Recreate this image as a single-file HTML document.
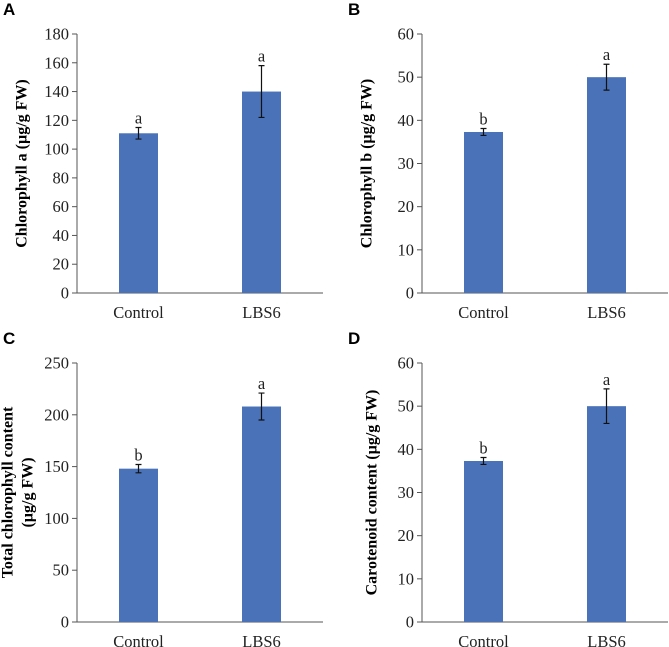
<!DOCTYPE html>
<html><head><meta charset="utf-8"><style>
html,body{margin:0;padding:0;background:#fff;}
svg{display:block;}
</style></head><body>
<svg id="fig" width="669" height="647" viewBox="0 0 669 647" xmlns="http://www.w3.org/2000/svg"></svg>
<script>
const categories = ["Control", "LBS6"];
const valuesA = [111, 140];
const errorsA = [4, 18];
const lettersA = ["a", "a"];
const ticksA = [0, 20, 40, 60, 80, 100, 120, 140, 160, 180];
const valuesB = [37.3, 50];
const errorsB = [0.8, 3];
const lettersB = ["b", "a"];
const ticksB = [0, 10, 20, 30, 40, 50, 60];
const valuesC = [148, 208];
const errorsC = [4, 13];
const lettersC = ["b", "a"];
const ticksC = [0, 50, 100, 150, 200, 250];
const valuesD = [37.3, 50];
const errorsD = [0.8, 4];
const lettersD = ["b", "a"];
const ticksD = [0, 10, 20, 30, 40, 50, 60];

const NS = "http://www.w3.org/2000/svg";
const svg = document.getElementById("fig");
function mk(tag, attrs, parent, text) {
  const e = document.createElementNS(NS, tag);
  for (const k in attrs) e.setAttribute(k, attrs[k]);
  if (text !== undefined) e.textContent = text;
  (parent || svg).appendChild(e);
  return e;
}
const serif = '"Liberation Serif", serif';

function panel(id, letter, ox, top, zero, ticks, values, errors, letters, titleLines, titleX) {
  const g = mk("g", {});
  
  
  const max = ticks[ticks.length - 1];
  const y = v => zero - (v / max) * (zero - top);
  const step = 123;
  const x = i => ox + step * (i + 0.5);
  const pl = mk("text", {x: ox - 74, y: top - 19, "font-family": '"Liberation Sans", sans-serif', "font-weight": "bold", "font-size": 17, fill: "#000"}, g, letter);
  
  
  const ax = mk("line", {x1: ox, y1: top, x2: ox, y2: zero, stroke: "#555", "stroke-width": 1}, g);
  
  
  const xx = mk("line", {x1: ox, y1: zero, x2: ox + step * 2, y2: zero, stroke: "#555", "stroke-width": 1}, g);
  
  
  ticks.forEach(t => {
    const tk = mk("line", {x1: ox - 5, y1: y(t), x2: ox, y2: y(t), stroke: "#555", "stroke-width": 1}, g);
    
    
    const tl = mk("text", {x: ox - 8, y: y(t) + 5.5, "text-anchor": "end", "font-family": serif, "font-size": 16.5, fill: "#222"}, g, String(t));
    
    
  });
  categories.forEach((c, i) => {
    const b = mk("rect", {x: x(i) - 19.5, y: y(values[i]), width: 39, height: zero - y(values[i]), fill: "#4a72b8"}, g);
    
    
    const hi = y(values[i] + errors[i]), lo = y(values[i] - errors[i]);
    const e = mk("path", {d: `M${x(i)} ${hi}V${lo}M${x(i) - 3} ${hi}H${x(i) + 3}M${x(i) - 3} ${lo}H${x(i) + 3}`, stroke: "#111", "stroke-width": 1.2, fill: "none"}, g);
    
    
    const lt = mk("text", {x: x(i), y: hi - 4, "text-anchor": "middle", "font-family": serif, "font-size": 16.5, fill: "#222"}, g, letters[i]);
    
    
    const cl = mk("text", {x: x(i), y: zero + 25, "text-anchor": "middle", "font-family": serif, "font-size": 16.5, fill: "#222"}, g, c);
    
    
  });
  const cy = (top + zero) / 2;
  titleLines.forEach((t, k) => {
    const tx = titleX + k * 20 - (titleLines.length - 1) * 10;
    const tt = mk("text", {x: tx, y: cy, transform: `rotate(-90 ${tx} ${cy})`, "text-anchor": "middle", "dominant-baseline": "central", "font-family": serif, "font-weight": "bold", "font-size": 16, fill: "#000"}, g, t);
    
    
  });
}
panel("a", "A", 77, 34, 293, ticksA, valuesA, errorsA, lettersA, ["Chlorophyll a (µg/g FW)"], 22);
panel("b", "B", 422, 34, 293, ticksB, valuesB, errorsB, lettersB, ["Chlorophyll b (µg/g FW)"], 367);
panel("c", "C", 77, 363, 622, ticksC, valuesC, errorsC, lettersC, ["Total chlorophyll content", "(µg/g FW)"], 18);
panel("d", "D", 422, 363, 622, ticksD, valuesD, errorsD, lettersD, ["Carotenoid content (µg/g FW)"], 372);
</script>
</body></html>
